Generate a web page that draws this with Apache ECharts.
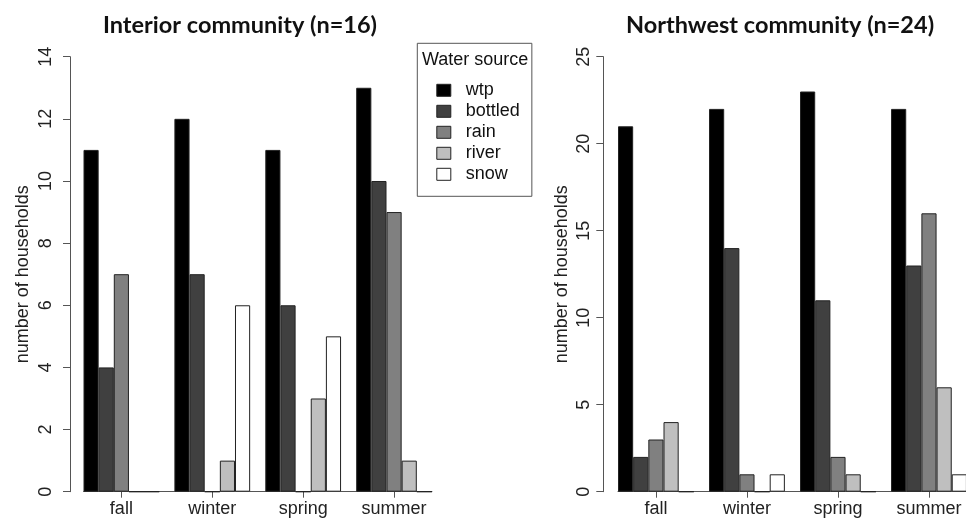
<!DOCTYPE html>
<html>
<head>
<meta charset="utf-8">
<script src="https://cdn.jsdelivr.net/npm/echarts@6/dist/echarts.min.js"></script>
<style>html,body{margin:0;padding:0;background:#fff;}#c{width:966px;height:520px;}</style>
</head>
<body>
<div id="c"></div>
<script>
// ---- data ----
const categories = ['fall', 'winter', 'spring', 'summer'];
const sources = ['wtp', 'bottled', 'rain', 'river', 'snow'];
const interiorWtp = [11, 12, 11, 13];
const interiorBottled = [4, 7, 6, 10];
const interiorRain = [7, 0, 0, 9];
const interiorRiver = [0, 1, 3, 1];
const interiorSnow = [0, 6, 5, 0];
const northwestWtp = [21, 22, 23, 22];
const northwestBottled = [2, 14, 11, 13];
const northwestRain = [3, 1, 2, 16];
const northwestRiver = [4, 0, 1, 6];
const northwestSnow = [0, 1, 0, 1];
const interiorAxisMax = 14, interiorAxisStep = 2;
const northwestAxisMax = 25, northwestAxisStep = 5;

// ---- styling / layout ----
const fills = ['#000000', '#404040', '#808080', '#bfbfbf', '#ffffff'];
const FONT = '"Liberation Sans", Arial, Helvetica, sans-serif';
const TITLE_FONT = 'Lato, "Open Sans", sans-serif';
const TOP = 56.7, H = 435;
const uL = 15.15, LL = 83.5, axL = 70;
const uR = 15.17, LR = 618, axR = 603.3;
const bandStartL = LL - uL / 2, bandStartR = LR - uR / 2;

const interiorSeries = [interiorWtp, interiorBottled, interiorRain, interiorRiver, interiorSnow];
const northwestSeries = [northwestWtp, northwestBottled, northwestRain, northwestRiver, northwestSnow];

function catAxis(gi) {
  return {
    type: 'category', gridIndex: gi, data: categories,
    axisLine: { show: false },
    axisTick: { show: true, alignWithLabel: true, length: 6, lineStyle: { color: '#555', width: 1 } },
    axisLabel: { fontSize: 18, fontFamily: FONT, color: '#222', margin: 8 },
    splitLine: { show: false }
  };
}
function baseAxis(gi) {
  return {
    type: 'value', gridIndex: gi, min: 0, max: 1,
    axisLine: { show: true, lineStyle: { color: '#555', width: 1 } },
    axisTick: { show: false }, axisLabel: { show: false }, splitLine: { show: false }
  };
}
function valAxis(gi, max, step, offset, margin, nameGap) {
  return {
    type: 'value', gridIndex: gi, min: 0, max: max, interval: step, offset: offset,
    axisLine: { show: true, lineStyle: { color: '#555', width: 1 } },
    axisTick: { show: true, length: 7, lineStyle: { color: '#555', width: 1 } },
    axisLabel: { rotate: 90, fontSize: 18, fontFamily: FONT, color: '#222', margin: margin },
    splitLine: { show: false },
    name: 'number of households', nameLocation: 'middle', nameGap: nameGap,
    nameTextStyle: { fontSize: 18, fontFamily: FONT, color: '#222' }
  };
}
function hiddenY(gi) {
  return { type: 'value', gridIndex: gi, show: false, min: 0, max: 1 };
}
function gridAt(left, width) {
  return { left: left, top: TOP, width: width, height: H, containLabel: false, outerBoundsMode: 'none' };
}

const series = [];
sources.forEach((s, i) => {
  series.push({
    name: s, type: 'bar', xAxisIndex: 0, yAxisIndex: 0, data: interiorSeries[i],
    barGap: '0%', barCategoryGap: '16.667%',
    itemStyle: { color: fills[i], borderColor: '#222', borderWidth: 1 }
  });
});
sources.forEach((s, i) => {
  series.push({
    name: s, type: 'bar', xAxisIndex: 2, yAxisIndex: 2, data: northwestSeries[i],
    barGap: '0%', barCategoryGap: '16.667%',
    itemStyle: { color: fills[i], borderColor: '#222', borderWidth: 1 }
  });
});

const chart = echarts.init(document.getElementById('c'), null, { renderer: 'canvas' });
chart.setOption({
  backgroundColor: '#ffffff',
  animation: false,
  title: [
    { text: 'Interior community (n=16)', left: 240, top: 13, textAlign: 'center', padding: 0,
      textStyle: { fontFamily: TITLE_FONT, fontWeight: 'bold', fontSize: 23.5, color: '#111' } },
    { text: 'Northwest community (n=24)', left: 780, top: 13, textAlign: 'center', padding: 0,
      textStyle: { fontFamily: TITLE_FONT, fontWeight: 'bold', fontSize: 23.5, color: '#111' } },
    { text: 'Water source', left: 422, top: 51, padding: 0,
      textStyle: { fontFamily: FONT, fontWeight: 'normal', fontSize: 18, color: '#111' } }
  ],
  legend: {
    data: sources, orient: 'vertical', left: 417.3, top: 43.3,
    padding: [38, 12, 13, 19], itemWidth: 14, itemHeight: 12, itemGap: 3,
    icon: 'rect', borderColor: '#555', borderWidth: 1,
    itemStyle: { borderColor: '#222', borderWidth: 1 },
    textStyle: { fontFamily: FONT, fontSize: 18, color: '#111', lineHeight: 18, padding: [0, 0, 0, 10] }
  },
  grid: [
    gridAt(bandStartL, uL * 24),
    gridAt(LL, uL * 23),
    gridAt(bandStartR, uR * 24),
    gridAt(LR, uR * 23)
  ],
  xAxis: [catAxis(0), baseAxis(1), catAxis(2), baseAxis(3)],
  yAxis: [
    valAxis(0, interiorAxisMax, interiorAxisStep, bandStartL - axL, 15, 38),
    hiddenY(1),
    valAxis(2, northwestAxisMax, northwestAxisStep, bandStartR - axR, 10, 32),
    hiddenY(3)
  ],
  series: series
});
</script>
</body>
</html>
